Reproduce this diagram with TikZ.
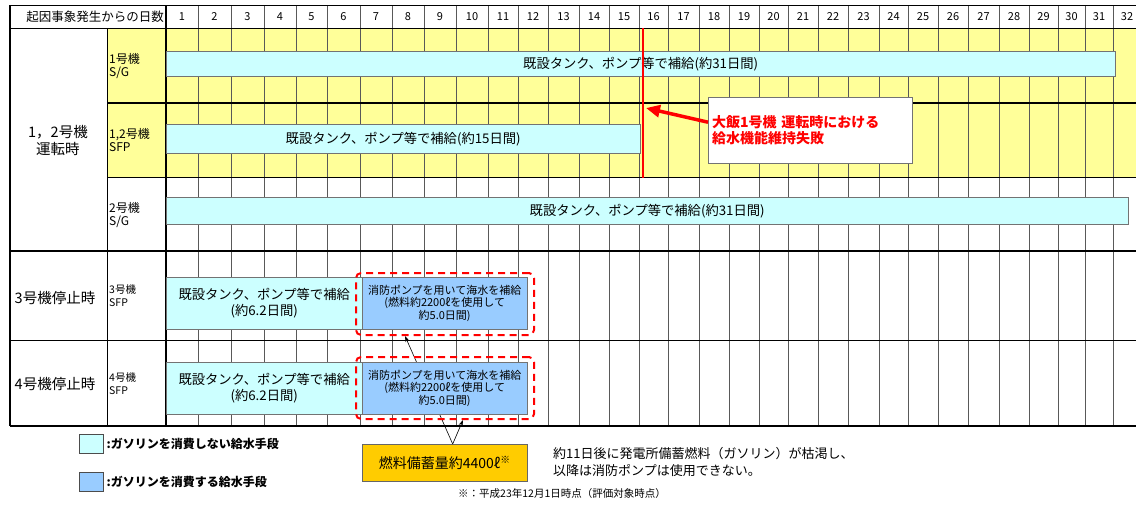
\documentclass[tikz,border=0pt]{standalone}
\usepackage{fontspec}
\setmainfont{Noto Sans CJK JP}
\usepackage{xcolor}
\usepackage{tikz}
\usetikzlibrary{arrows.meta,positioning}

\definecolor{cellyellow}{RGB}{255,255,153}
\definecolor{tankcyan}{RGB}{204,255,255}
\definecolor{pumpblue}{RGB}{153,204,255}
\definecolor{fuelorange}{RGB}{255,204,0}

\begin{document}
\begin{tikzpicture}[x=1pt,y=1pt,
	every node/.append style={inner sep=0pt},
	gridline/.style={black!65,line width=0.6pt},
	frameline/.style={black,line width=1.6pt},
	thinframe/.style={black,line width=0.8pt},
	daynum/.style={font=\fontsize{11}{13}\selectfont},
	tankbar/.style={draw=black!55,fill=tankcyan,anchor=north west,align=center,font=\fontsize{13.3}{15.5}\selectfont},
	pumpbox/.style={draw=black!55,fill=pumpblue,anchor=north west,minimum width=165,minimum height=52,align=center,font=\fontsize{11}{12.5}\selectfont},
	fuelring/.style={draw=red,line width=2pt,dash pattern=on 7pt off 5pt,rounded corners=5pt,anchor=north west,minimum width=178},
	grouplabel/.style={align=center,font=\fontsize{14.5}{17}\selectfont},
	unitlabel/.style={align=left,anchor=west,font=\fontsize{12}{13.5}\selectfont},
	smallunit/.style={align=left,anchor=west,font=\fontsize{10.5}{13}\selectfont},
	legendbox/.style={draw=black!70,anchor=north west,minimum width=24,minimum height=19},
	legendtext/.style={font=\bfseries\fontsize{12}{14}\selectfont},
	fuelpath/.style={black,line width=0.6pt,-{Stealth[length=6pt,width=4pt]}}]
	\useasboundingbox (0,0) rectangle (1136,-504);
	% table background and grid
	\fill [cellyellow] (107,-28) rectangle (1136,-177);
	\foreach \xr [remember=\xr as \xl (initially 166), count=\d] in {198,231,264,296,327,360,392,424,456,488,518,548,579,609,639,668,699,729,759,788,818,848,879,908,938,968,999,1029,1058,1085,1113,1141}
	{
		\draw [gridline] (\xl,-5) -- (\xl,-426);
		\node [daynum] (day\d) at ({(\xl+\xr)/2},-17) {\d};
	}
	\draw [thinframe] (10,-5) -- (1136,-5);
	\draw [thinframe] (10,-28) -- (1136,-28);
	\draw [frameline] (107,-103) -- (1136,-103);
	\draw [thinframe] (107,-177) -- (1136,-177);
	\draw [frameline] (10,-251) -- (1136,-251);
	\draw [black,line width=1pt] (10,-340) -- (1136,-340);
	\draw [frameline] (10,-426) -- (1136,-426);
	\draw [black,line width=1.2pt] (10,-5) -- (10,-426);
	\draw [thinframe] (107,-28) -- (107,-426);
	\draw [frameline] (166,-5) -- (166,-426);
	\node [anchor=east,font=\fontsize{12.5}{14}\selectfont] (daytitle) at (164,-17) {起因事象発生からの日数};
	% row labels
	\node [grouplabel] (run12) at (58,-140) {1，2号機\\運転時};
	\node [unitlabel] (sg1lab) at (109,-66) {1号機\\S/G};
	\node [unitlabel] (sfp12lab) at (109,-140) {1,2号機\\SFP};
	\node [unitlabel] (sg2lab) at (109,-215) {2号機\\S/G};
	\node [grouplabel] (stop3) at (55,-298) {3号機停止時};
	\node [smallunit] (sfp3lab) at (109,-296) {3号機\\SFP};
	\node [grouplabel] (stop4) at (55,-384) {4号機停止時};
	\node [smallunit] (sfp4lab) at (109,-384) {4号機\\SFP};
	% supply bars
	\node [tankbar,minimum width=949,minimum height=25] (sg1) at (166,-51) {既設タンク、ポンプ等で補給(約31日間)};
	\node [tankbar,minimum width=474,minimum height=29] (sfp12) at (166,-124) {既設タンク、ポンプ等で補給(約15日間)};
	\node [tankbar,minimum width=962,minimum height=27] (sg2) at (166,-197) {既設タンク、ポンプ等で補給(約31日間)};
	\node [tankbar,minimum width=196,minimum height=52] (tank3) at (166,-277) {既設タンク、ポンプ等で補給\\(約6.2日間)};
	\node [pumpbox] (pump3) at (362,-277) {消防ポンプを用いて海水を補給\\(燃料約2200ℓを使用して\\約5.0日間)};
	\node [fuelring,minimum height=62] (ring3) at (355,-272) {};
	% fuel stock
	\node [draw=black!60,fill=fuelorange,anchor=north west,minimum width=165,minimum height=37,font=\fontsize{14}{16}\selectfont] (fuel) at (362,-444) {燃料備蓄量約4400ℓ\textsuperscript{※}};
	\draw [fuelpath] ([xshift=8]fuel.north) -- ([xshift=-40]ring3.south);
	\node [tankbar,minimum width=196,minimum height=52] (tank4) at (166,-362) {既設タンク、ポンプ等で補給\\(約6.2日間)};
	\node [pumpbox] (pump4) at (362,-362) {消防ポンプを用いて海水を補給\\(燃料約2200ℓを使用して\\約5.0日間)};
	\node [fuelring,minimum height=62] (ring4) at (355,-356) {};
	\draw [fuelpath] ([xshift=8]fuel.north) -- ([xshift=18]ring4.south);
	% loss of feedwater at day 15
	\coordinate (failtop) at (643,-28);
	\coordinate (failbot) at (643,-178);
	\coordinate (failpt) at (646,-108);
	\draw [red,line width=2pt] (failtop) -- (failbot);
	\node [draw=black!55,fill=white,anchor=north west,minimum height=66,text width=196,inner xsep=4pt,align=left,text=red,font=\bfseries\fontsize{14}{16}\selectfont] (callout) at (708,-97) {大飯1号機 運転時における\\給水機能維持失敗};
	\draw [red,line width=3.5pt,-{Triangle[length=14pt,width=12pt]}] ([yshift=8]callout.west) -- (failpt);
	% legend and notes
	\node [legendbox,fill=tankcyan] (legtank) at (79,-434) {};
	\node [legendtext,right=3pt of legtank] (legtanktext) {:ガソリンを消費しない給水手段};
	\node [legendbox,fill=pumpblue] (legpump) at (79,-472) {};
	\node [legendtext,right=3pt of legpump] (legpumptext) {:ガソリンを消費する給水手段};
	\node [anchor=west,align=left,font=\fontsize{13}{17}\selectfont] (drynote) at (553,-462) {約11日後に発電所備蓄燃料（ガソリン）が枯渇し、\\以降は消防ポンプは使用できない。};
	\node [anchor=west,font=\fontsize{10.5}{12}\selectfont] (datenote) at (458,-494) {※：平成23年12月1日時点（評価対象時点）};
\end{tikzpicture}
\end{document}
